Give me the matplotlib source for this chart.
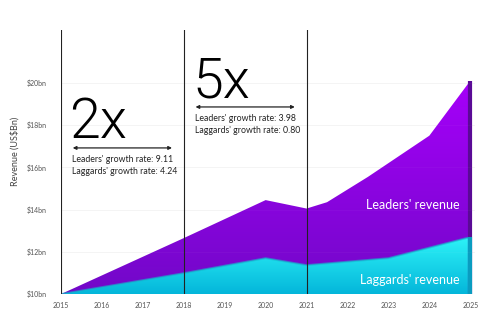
import numpy as np
import matplotlib
matplotlib.use("Agg")
import matplotlib.pyplot as plt
from matplotlib.colors import LinearSegmentedColormap

plt.rcParams['font.family'] = ['Lato', 'DejaVu Sans']

# ---- data ----
years_lead = [2015, 2018, 2020, 2021, 2021.5, 2022.5, 2024, 2025]
leaders = [10.0, 12.65, 14.45, 14.05, 14.35, 15.55, 17.5, 20.1]
years_lag = [2015, 2018, 2020, 2021, 2023, 2025]
laggards = [10.0, 10.99, 11.7, 11.37, 11.7, 12.7]
xticks = list(range(2015, 2026))
yticks = [10, 12, 14, 16, 18, 20]
ytick_labels = ['$10bn', '$12bn', '$14bn', '$16bn', '$18bn', '$20bn']
period_lines = [2015, 2018, 2021]
periods = [
    {'label': '2x', 'start': 2015, 'end': 2018, 'lead': '9.11', 'lag': '4.24'},
    {'label': '5x', 'start': 2018, 'end': 2021, 'lead': '3.98', 'lag': '0.80'},
]

fig = plt.figure(figsize=(4.8, 3.2), dpi=100)
ax = fig.add_axes([0.127, 0.081, 0.863, 0.825])
x0, x1 = 2015, 2025.12
y0, y1 = 10, 22.5

xs = np.unique(np.concatenate([years_lead, years_lag]))
lead_i = np.interp(xs, years_lead, leaders)
lag_i = np.interp(xs, years_lag, laggards)

def grad_fill(xv, ylo, yhi, c_top, c_bot, z):
    poly = ax.fill_between(xv, ylo, yhi, color='none', lw=0, zorder=z)
    cmap = LinearSegmentedColormap.from_list('g', [c_bot, c_top])
    grad = np.linspace(0, 1, 256).reshape(-1, 1)
    im = ax.imshow(grad, cmap=cmap, aspect='auto', origin='lower',
                   extent=[x0, x1, y0, float(np.max(yhi))], zorder=z,
                   interpolation='bicubic')
    im.set_clip_path(poly.get_paths()[0], transform=ax.transData)
    return poly

grad_fill(xs, y0, lead_i, '#a600fa', '#7208c8', 1)
grad_fill(xs, y0, lag_i, '#2ef4f8', '#04b6da', 2)
ax.set_xlim(x0, x1)
ax.set_ylim(y0, y1)
# shadow line along the boundary
ax.plot(years_lag, laggards, color='#12b8cc', lw=1.4, alpha=0.6, zorder=3)
# dark right edge
ax.plot([years_lead[-1]] * 2, [y0, leaders[-1]], color='#5a0a96', lw=3, zorder=3,
        solid_capstyle='butt')
ax.plot([years_lag[-1]] * 2, [y0, laggards[-1]], color='#0a9cc0', lw=3, zorder=3,
        solid_capstyle='butt')

for y in yticks[1:]:
    ax.axhline(y, color='#f2f2f2', lw=0.6, zorder=0.5)
    ax.axhline(y, color='white', lw=0.4, alpha=0.06, zorder=4)

for x in period_lines:
    ax.axvline(x, color='#222222', lw=0.8, zorder=5)

for p, ybig, yarr in zip(periods, [17.4, 19.33], [16.92, 18.86]):
    ax.text(p['start'] + 0.2, ybig, p['label'], fontsize=40, fontweight=300,
            family=['Roboto', 'DejaVu Sans'],
            color='black', va='baseline', ha='left', zorder=6)
    ax.annotate('', xy=(p['start'] + 0.22, yarr), xytext=(p['end'] - 0.22, yarr),
                arrowprops=dict(arrowstyle='<|-|>', color='#222222', lw=0.9,
                                mutation_scale=5), zorder=6)
    ax.text(p['start'] + 0.27, yarr - 0.35, "Leaders' growth rate: " + p['lead'],
            fontsize=6.3, color='#222222', va='top', ha='left', zorder=6)
    ax.text(p['start'] + 0.27, yarr - 0.9, "Laggards' growth rate: " + p['lag'],
            fontsize=6.3, color='#222222', va='top', ha='left', zorder=6)

ax.text(2024.73, 14.2, "Leaders' revenue", fontsize=9, color='white',
        ha='right', va='center', zorder=6)
ax.text(2024.73, 10.65, "Laggards' revenue", fontsize=9, color='white',
        ha='right', va='center', zorder=6)

ax.set_xticks(xticks)
ax.set_xticklabels([str(t) for t in xticks], fontsize=5, color='#555555')
ax.set_yticks(yticks)
ax.set_yticklabels(ytick_labels, fontsize=5, color='#555555')
ax.tick_params(length=0, pad=6)
ax.tick_params(axis='y', pad=10)
for s in ax.spines.values():
    s.set_visible(False)
ax.set_ylabel('Revenue (US$Bn)', fontsize=6.5, color='#444444', labelpad=10)
ax.yaxis.set_label_coords(-0.1, 0.54)

fig.savefig('out.png', dpi=100)
